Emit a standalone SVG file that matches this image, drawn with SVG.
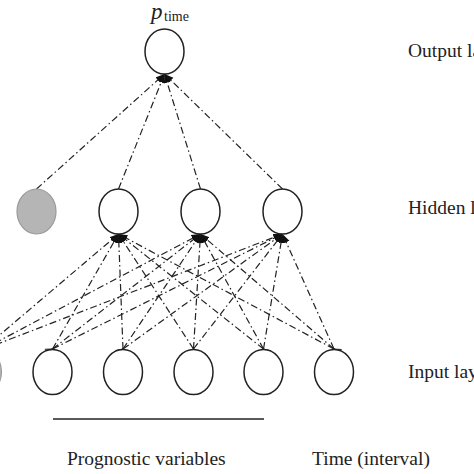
<svg xmlns="http://www.w3.org/2000/svg" width="474" height="474" viewBox="0 0 474 474">
<style>
.node{fill:#fff;stroke:#222;stroke-width:1.5}
.bias{fill:#b5b5b5;stroke:#9a9a9a;stroke-width:1.2}
.conn{stroke:#222;stroke-width:1.2;fill:none;stroke-dasharray:7 3 1.5 3}
.lbl{font-family:"Liberation Serif",serif;font-size:19.5px;fill:#222}
</style>
<defs>
<marker id="fa" markerUnits="userSpaceOnUse" markerWidth="10" markerHeight="8" refX="9" refY="4" orient="auto">
<path d="M0,0.5 L9,4 L0,7.5 z" fill="#111"/>
</marker>
<marker id="oa" markerUnits="userSpaceOnUse" markerWidth="10" markerHeight="8" refX="8" refY="4" orient="auto">
<path d="M1,0.8 L8,4 L1,7.2" fill="none" stroke="#222" stroke-width="1.1"/>
</marker>
</defs>
<rect width="474" height="474" fill="#fff"/>
<g id="connectors">
<line class="conn" x1="36.5" y1="189" x2="164.5" y2="74" marker-end="url(#fa)"/>
<line class="conn" x1="118.5" y1="189" x2="164.5" y2="74" marker-end="url(#fa)"/>
<line class="conn" x1="200.5" y1="189" x2="164.5" y2="74" marker-end="url(#fa)"/>
<line class="conn" x1="282.5" y1="189" x2="164.5" y2="74" marker-end="url(#fa)"/>
<line class="conn" x1="-18" y1="350" x2="118.5" y2="234" marker-end="url(#fa)"/>
<line class="conn" x1="52.5" y1="349" x2="118.5" y2="234" marker-start="url(#oa)" marker-end="url(#fa)"/>
<line class="conn" x1="123" y1="349" x2="118.5" y2="234" marker-start="url(#oa)" marker-end="url(#fa)"/>
<line class="conn" x1="193.5" y1="349" x2="118.5" y2="234" marker-start="url(#oa)" marker-end="url(#fa)"/>
<line class="conn" x1="263.5" y1="349" x2="118.5" y2="234" marker-start="url(#oa)" marker-end="url(#fa)"/>
<line class="conn" x1="334" y1="349" x2="118.5" y2="234" marker-start="url(#oa)" marker-end="url(#fa)"/>
<line class="conn" x1="-18" y1="350" x2="200.5" y2="234" marker-end="url(#fa)"/>
<line class="conn" x1="52.5" y1="349" x2="200.5" y2="234" marker-start="url(#oa)" marker-end="url(#fa)"/>
<line class="conn" x1="123" y1="349" x2="200.5" y2="234" marker-start="url(#oa)" marker-end="url(#fa)"/>
<line class="conn" x1="193.5" y1="349" x2="200.5" y2="234" marker-start="url(#oa)" marker-end="url(#fa)"/>
<line class="conn" x1="263.5" y1="349" x2="200.5" y2="234" marker-start="url(#oa)" marker-end="url(#fa)"/>
<line class="conn" x1="334" y1="349" x2="200.5" y2="234" marker-start="url(#oa)" marker-end="url(#fa)"/>
<line class="conn" x1="-18" y1="350" x2="282.5" y2="234" marker-end="url(#fa)"/>
<line class="conn" x1="52.5" y1="349" x2="282.5" y2="234" marker-start="url(#oa)" marker-end="url(#fa)"/>
<line class="conn" x1="123" y1="349" x2="282.5" y2="234" marker-start="url(#oa)" marker-end="url(#fa)"/>
<line class="conn" x1="193.5" y1="349" x2="282.5" y2="234" marker-start="url(#oa)" marker-end="url(#fa)"/>
<line class="conn" x1="263.5" y1="349" x2="282.5" y2="234" marker-start="url(#oa)" marker-end="url(#fa)"/>
<line class="conn" x1="334" y1="349" x2="282.5" y2="234" marker-start="url(#oa)" marker-end="url(#fa)"/>
</g>
<g id="output"><ellipse class="node" cx="164.5" cy="51.5" rx="19.5" ry="22.5"/></g>
<g id="output-label"><text x="151" y="19" font-family="Liberation Serif,serif" font-style="italic" font-size="23" fill="#222">p</text><text x="164" y="21" font-family="Liberation Serif,serif" font-size="14" fill="#222">time</text></g>
<g id="hidden-bias"><ellipse class="bias" cx="36.5" cy="211.5" rx="19.5" ry="22.5"/></g>
<g id="hidden1"><ellipse class="node" cx="118.5" cy="211.5" rx="19.5" ry="22.5"/></g>
<g id="hidden2"><ellipse class="node" cx="200.5" cy="211.5" rx="19.5" ry="22.5"/></g>
<g id="hidden3"><ellipse class="node" cx="282.5" cy="211.5" rx="19.5" ry="22.5"/></g>
<g id="input-bias"><ellipse class="bias" cx="-18" cy="372" rx="19.5" ry="22.5"/></g>
<g id="input1"><ellipse class="node" cx="52.5" cy="372" rx="19.5" ry="22.5"/></g>
<g id="input2"><ellipse class="node" cx="123" cy="372" rx="19.5" ry="22.5"/></g>
<g id="input3"><ellipse class="node" cx="193.5" cy="372" rx="19.5" ry="22.5"/></g>
<g id="input4"><ellipse class="node" cx="263.5" cy="372" rx="19.5" ry="22.5"/></g>
<g id="input5"><ellipse class="node" cx="334" cy="372" rx="19.5" ry="22.5"/></g>
<g id="layer-labels">
<text class="lbl" x="408" y="57">Output layer</text>
<text class="lbl" x="408" y="214">Hidden layer</text>
<text class="lbl" x="408" y="378">Input layer</text>
</g>
<g id="bottom-labels">
<line x1="53" y1="419" x2="264" y2="419" stroke="#222" stroke-width="1.5"/>
<text class="lbl" x="67" y="465">Prognostic variables</text>
<text class="lbl" x="312" y="465">Time (interval)</text>
</g>
</svg>
